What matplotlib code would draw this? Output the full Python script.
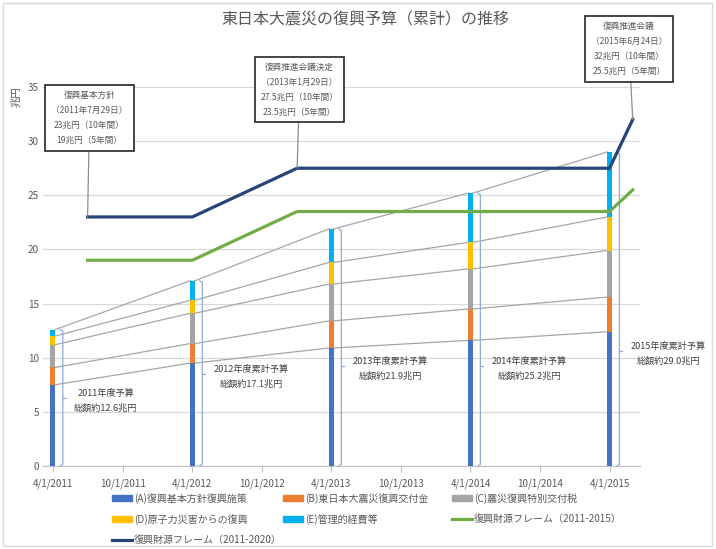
import datetime as dt
import matplotlib
matplotlib.use('Agg')
import matplotlib.pyplot as plt
from matplotlib.patches import Patch, Rectangle
from matplotlib.lines import Line2D

plt.rcParams['font.family'] = ['Noto Sans CJK JP', 'DejaVu Sans']

# Data (兆円)
years = [dt.date(2011, 4, 1), dt.date(2012, 4, 1), dt.date(2013, 4, 1),
         dt.date(2014, 4, 1), dt.date(2015, 4, 1)]
a_vals = [7.5, 9.5, 10.9, 11.6, 12.4]
b_vals = [1.6, 1.8, 2.5, 2.9, 3.2]
c_vals = [2.1, 2.8, 3.4, 3.7, 4.3]
d_vals = [0.8, 1.2, 2.0, 2.45, 3.1]
e_vals = [0.6, 1.8, 3.1, 4.55, 6.0]
totals = [12.6, 17.1, 21.9, 25.2, 29.0]
bar_titles = ['2011年度予算', '2012年度累計予算', '2013年度累計予算',
              '2014年度累計予算', '2015年度累計予算']

frame_dates = [dt.date(2011, 7, 1), dt.date(2012, 4, 1), dt.date(2013, 1, 1),
               dt.date(2015, 4, 1), dt.date(2015, 6, 1)]
frame_2015 = [19, 19, 23.5, 23.5, 25.5]
frame_2020 = [23, 23, 27.5, 27.5, 32]

series_names = ['(A)復興基本方針復興施策', '(B)東日本大震災復興交付金', '(C)震災復興特別交付税',
                '(D)原子力災害からの復興', '(E)管理的経費等']
frame_names = ['復興財源フレーム（2011-2015）', '復興財源フレーム（2011-2020）']

callouts = [
    '復興基本方針\n（2011年7月29日）\n23兆円（10年間）\n19兆円（5年間）',
    '復興推進会議決定\n（2013年1月29日）\n27.5兆円（10年間）\n23.5兆円（5年間）',
    '復興推進会議\n（2015年6月24日）\n32兆円（10年間）\n25.5兆円（5年間）',
]

colors = ['#4472C4', '#ED7D31', '#A5A5A5', '#FFC000', '#00B0F0']
green = '#70AD47'
navy = '#264478'
txt = '#595959'

W, H = 716, 549
fig = plt.figure(figsize=(W / 100, H / 100), dpi=100)
ax = fig.add_axes([43 / W, 1 - 466 / H, (640 - 43) / W, (466 - 87) / H])

# stacked bars
bw = 13  # days
stack = [a_vals, b_vals, c_vals, d_vals, e_vals]
bottom = [0] * len(years)
tops = []
for vals, col in zip(stack, colors):
    ax.bar(years, vals, width=bw, bottom=bottom, color=col, zorder=3)
    bottom = [b + v for b, v in zip(bottom, vals)]
    tops.append(list(bottom))

# series lines between bars
half = dt.timedelta(days=bw / 2)
for lvl in tops:
    for i in range(len(years) - 1):
        ax.plot([years[i] + half, years[i + 1] - half], [lvl[i], lvl[i + 1]],
                color='#A6A6A6', lw=0.9, zorder=2)

# frame lines
ax.plot(frame_dates, frame_2015, color=green, lw=2.3, zorder=4)
ax.plot(frame_dates, frame_2020, color=navy, lw=2.3, zorder=4)

# braces + labels
tick_y = [6.3, 8.5, 9.2, 9.25, 10.6]
bc = '#8FAADC'
for d, tot, ty, ttl in zip(years, totals, tick_y, bar_titles):
    xv = d + dt.timedelta(days=26)
    xl = d + dt.timedelta(days=19)
    xr = d + dt.timedelta(days=34)
    ax.plot([xl, xv, xv, xl], [tot, tot - 0.15, 0.15, 0], color=bc, lw=0.9, zorder=3)
    ax.plot([xv, xr], [ty, ty], color=bc, lw=0.9, zorder=3)
    ax.annotate(f'{ttl}\n総額約{tot:.1f}兆円', xy=(xr, ty), xytext=(6, -2),
                textcoords='offset points', ha='left', va='center',
                multialignment='center', fontsize=6.6, color='#404040',
                linespacing=1.8)

# callout boxes
anchors = [(frame_dates[0], frame_2020[0]), (frame_dates[2], frame_2020[2]),
           (frame_dates[4], frame_2020[4])]
box_pos = [(89.5, 118), (299.5, 89.5), (629, 49)]
for (ad, av), (bx, by), s in zip(anchors, box_pos, callouts):
    ax.annotate(s, xy=(ad, av), xytext=(bx, H - by), textcoords='figure pixels',
                ha='center', va='center', fontsize=6.2, color=txt, linespacing=1.85,
                bbox=dict(boxstyle='square,pad=0.7', fc='white', ec='#262626', lw=1.2),
                arrowprops=dict(arrowstyle='-', color='#8c8c8c', lw=0.9,
                                shrinkA=0, shrinkB=0),
                annotation_clip=False, zorder=6)

# axes styling
ax.set_ylim(0, 35)
ax.set_yticks(range(0, 36, 5))
ax.set_xlim(dt.date(2011, 3, 6), dt.date(2015, 6, 20))
xt = [dt.date(2011, 4, 1), dt.date(2011, 10, 1), dt.date(2012, 4, 1), dt.date(2012, 10, 1),
      dt.date(2013, 4, 1), dt.date(2013, 10, 1), dt.date(2014, 4, 1), dt.date(2014, 10, 1),
      dt.date(2015, 4, 1)]
ax.set_xticks(xt)
ax.set_xticklabels([f'{d.month}/{d.day}/{d.year}' for d in xt])
ax.grid(axis='y', color='#D9D9D9', lw=0.9, zorder=0)
for s in ['top', 'right', 'left']:
    ax.spines[s].set_visible(False)
ax.spines['bottom'].set_color('#BFBFBF')
ax.tick_params(axis='y', length=0, labelsize=7.2, labelcolor=txt, pad=3)
ax.tick_params(axis='x', length=4, color='#BFBFBF', labelsize=7, labelcolor=txt, pad=5)

fig.text(16 / W, 1 - 97 / H, '兆円', rotation=90, ha='center', va='center',
         fontsize=7.5, color=txt)
fig.text(365 / W, 1 - 20 / H, '東日本大震災の復興予算（累計）の推移', ha='center',
         va='center', fontsize=11.5, color=txt)

# legend: three columns placed separately
h = [Patch(color=c) for c in colors]
lg = [Line2D([], [], color=green, lw=2.3), Line2D([], [], color=navy, lw=2.3)]
cols = [([h[0], h[3], lg[1]], [series_names[0], series_names[3], frame_names[1]], 112),
        ([h[1], h[4]], [series_names[1], series_names[4]], 283),
        ([h[2], lg[0]], [series_names[2], frame_names[0]], 452)]
for hs, ls, x0 in cols:
    fig.legend(hs, ls, loc='upper left', bbox_to_anchor=(x0 / W, 1 - 493 / H),
               frameon=False, fontsize=7.2, handlelength=2.0, handleheight=0.5,
               handletextpad=0.2, labelspacing=1.0, labelcolor=txt,
               borderaxespad=0, borderpad=0)

fig.add_artist(Rectangle((3 / W, 3 / H), 709 / W, 543 / H, transform=fig.transFigure,
                         fill=False, ec='#D9D9D9', lw=1))

fig.savefig('out.png', dpi=100)
